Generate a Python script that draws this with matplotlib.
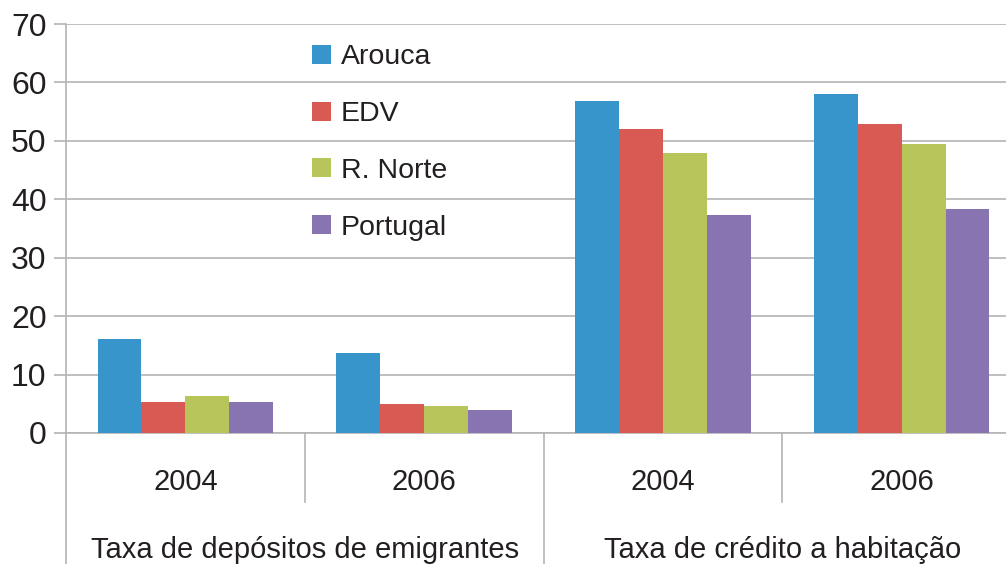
import numpy as np
import matplotlib.pyplot as plt
import matplotlib.transforms as mtransforms

# dados
anos = ['2004', '2006', '2004', '2006']
grupos = ['Taxa de depósitos de emigrantes', 'Taxa de crédito a habitação']
series = ['Arouca', 'EDV', 'R. Norte', 'Portugal']
arouca = [16.1, 13.7, 56.8, 58.1]
edv = [5.3, 5.0, 52.1, 52.8]
r_norte = [6.3, 4.6, 48.0, 49.4]
portugal = [5.3, 3.9, 37.3, 38.3]
cores = ['#3795cc', '#d95a52', '#b7c55b', '#8774b0']

plt.rcParams['font.family'] = ['Liberation Sans', 'DejaVu Sans']
cor_texto = '#231f20'
cor_grelha = '#b4b4b4'

fig = plt.figure(figsize=(10.06, 5.64), dpi=100)
ax = fig.add_axes([66 / 1006, 1 - 433 / 564, (1021 - 66) / 1006, (433 - 24) / 564])

x = np.arange(len(anos))
largura = 0.184
valores = [arouca, edv, r_norte, portugal]
for i, (nome, v) in enumerate(zip(series, valores)):
    ax.bar(x + (i - 1.5) * largura, v, largura, color=cores[i], label=nome, zorder=3)

ax.set_xlim(-0.5, len(anos) - 0.5)
ax.set_ylim(0, 70)
ax.set_yticks(range(0, 71, 10))
ax.yaxis.grid(True, color=cor_grelha, linewidth=1.2, zorder=0)
ax.tick_params(axis='y', length=9, width=1.2, color=cor_grelha, labelsize=23,
               labelcolor=cor_texto, pad=5)
ax.tick_params(axis='x', length=0, labelbottom=False)
for s in ['top', 'right', 'left']:
    ax.spines[s].set_visible(False)
ax.spines['bottom'].set_color(cor_grelha)
ax.spines['bottom'].set_linewidth(1.2)

# eixo de categorias com dois niveis
trans = mtransforms.blended_transform_factory(ax.transData, ax.transAxes)
def yax(py):
    return (433 - py) / 409

ax.plot([-0.5, -0.5], [1, yax(570)], color=cor_grelha, lw=1.2,
        transform=trans, clip_on=False)
ax.plot([1.5, 1.5], [0, yax(570)], color=cor_grelha, lw=1.2,
        transform=trans, clip_on=False)
for xs in [0.5, 2.5]:
    ax.plot([xs, xs], [0, yax(502)], color=cor_grelha, lw=1.2,
            transform=trans, clip_on=False)

for i, a in enumerate(anos):
    ax.text(i, yax(482), a, transform=trans, ha='center', va='center',
            fontsize=21, color=cor_texto)
for j, g in enumerate(grupos):
    ax.text(2 * j + 0.5, yax(550), g, transform=trans, ha='center', va='center',
            fontsize=21, color=cor_texto)

leg = ax.legend(loc='upper left', bbox_to_anchor=(0.243, 0.985), frameon=False,
                fontsize=20.5, handlelength=0.65, handleheight=0.65, handletextpad=0.35,
                labelspacing=1.08, borderpad=0)
for t in leg.get_texts():
    t.set_color(cor_texto)

fig.savefig('out.png', dpi=100)
